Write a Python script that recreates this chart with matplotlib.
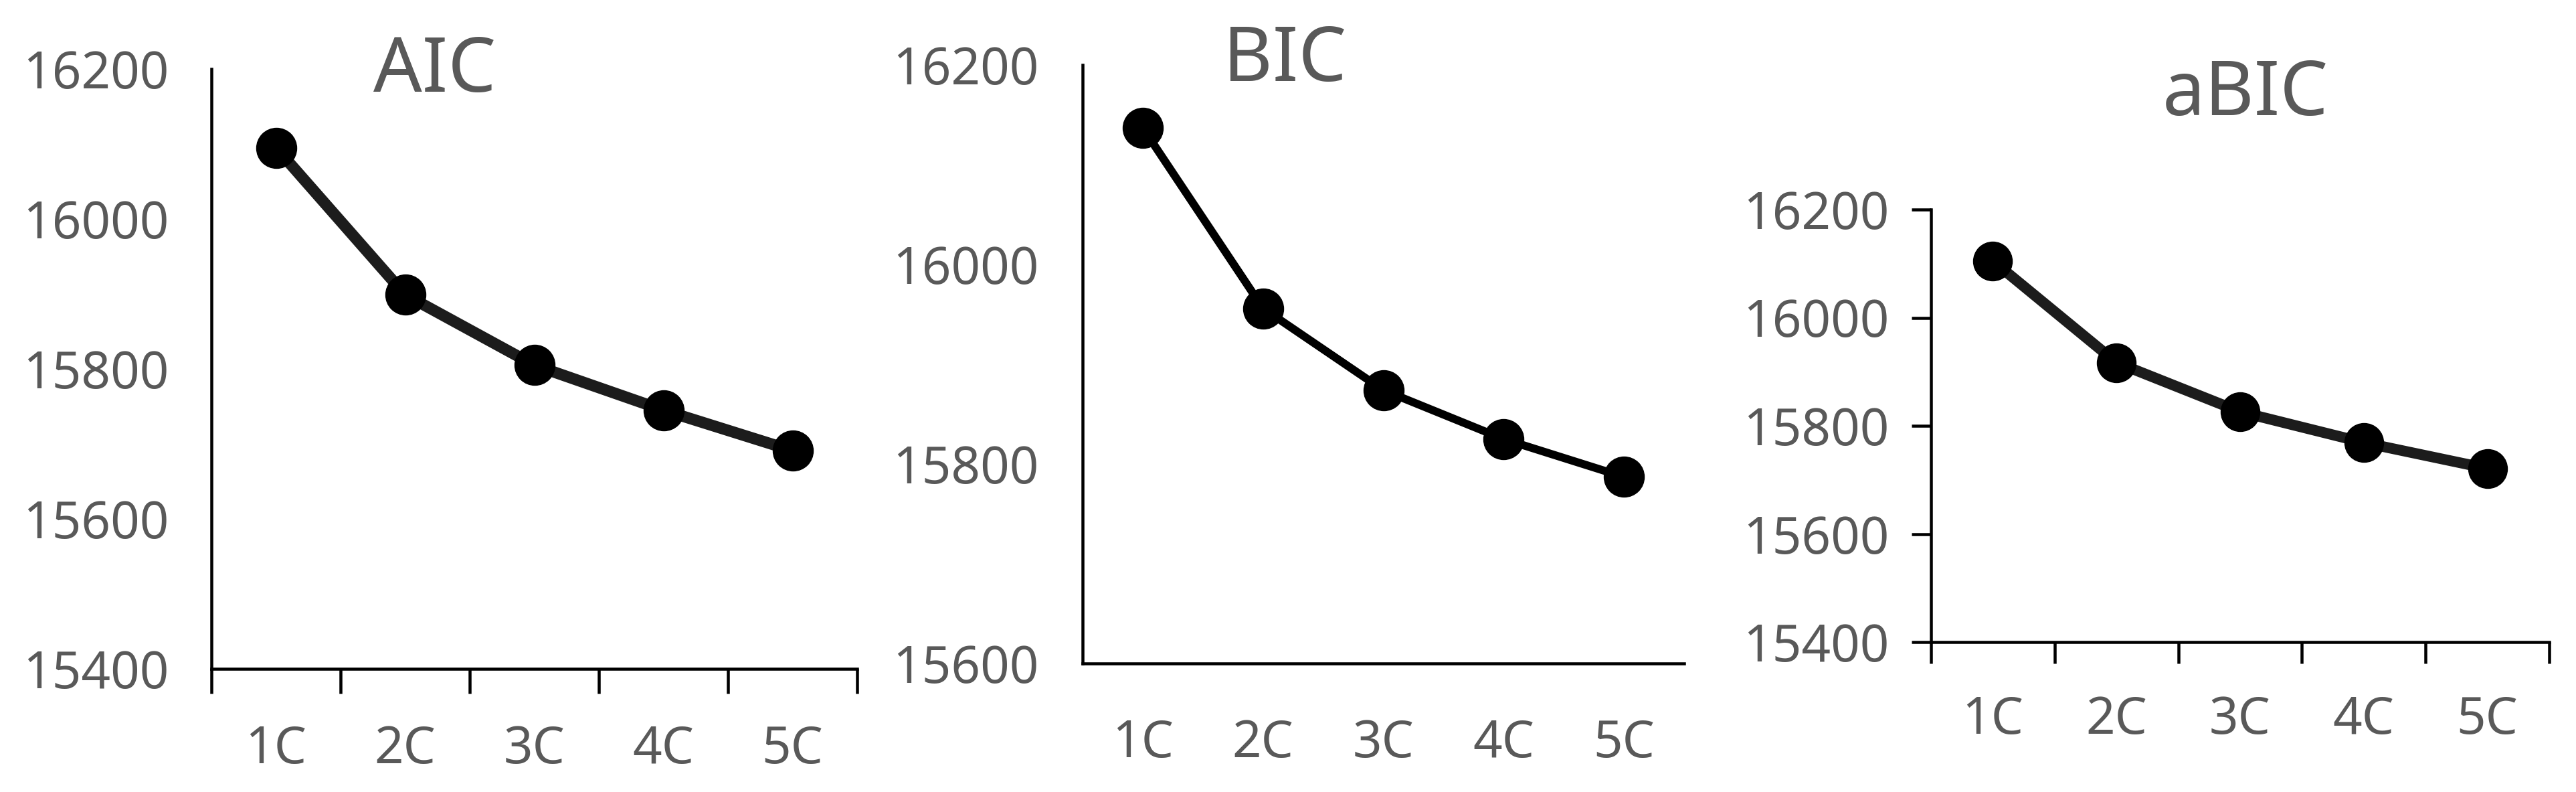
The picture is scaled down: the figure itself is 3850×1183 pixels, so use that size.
import matplotlib
matplotlib.use("Agg")
import matplotlib.pyplot as plt
import numpy as np

plt.rcParams['font.family'] = ['Noto Sans', 'DejaVu Sans']

categories = ["1C", "2C", "3C", "4C", "5C"]
aic_values = [16095, 15899, 15805, 15745, 15691]
bic_values = [16137, 15956, 15874, 15825, 15787]
abic_values = [16105, 15917, 15826, 15769, 15721]

titles = ["AIC", "BIC", "aBIC"]
aic_yticks = [15400, 15600, 15800, 16000, 16200]
bic_yticks = [15600, 15800, 16000, 16200]
abic_yticks = [15400, 15600, 15800, 16000, 16200]

W, H = 3850, 1183
DPI = 100
fig = plt.figure(figsize=(W / DPI, H / DPI), dpi=DPI)
fig.patch.set_facecolor("white")

GREY = "#595959"
PX = 72.0 / DPI  # points per pixel


def box(left, right, top, bottom):
    return [left / W, 1 - bottom / H, (right - left) / W, (bottom - top) / H]


panels = [
    dict(vals=aic_values, yt=aic_yticks, rect=box(316, 1281, 103, 999),
         lw=17, ms=60, col="#1c1c1c", xtick_len=37, ytick_len=0, ypad=63, xpad=83,
         title=(650, 137)),
    dict(vals=bic_values, yt=bic_yticks, rect=box(1618, 2517, 97, 991),
         lw=12, ms=60, col="#000000", xtick_len=0, ytick_len=0, ypad=65, xpad=82,
         title=(1920, 121)),
    dict(vals=abic_values, yt=abic_yticks, rect=box(2886, 3810, 313, 959),
         lw=16, ms=58, col="#1c1c1c", xtick_len=32, ytick_len=29, ypad=33, xpad=79,
         title=(3356, 172)),
]

x = np.arange(1, len(categories) + 1)
for p, t in zip(panels, titles):
    ax = fig.add_axes(p["rect"])
    ax.plot(x, p["vals"], color=p["col"], lw=p["lw"] * PX, marker="o",
            markersize=p["ms"] * PX, markerfacecolor="black",
            markeredgecolor="black", solid_capstyle="round", zorder=3,
            clip_on=False)
    ax.set_xlim(0.5, len(categories) + 0.5)
    ax.set_ylim(p["yt"][0], p["yt"][-1])
    ax.set_yticks(p["yt"])
    ax.set_yticklabels([str(v) for v in p["yt"]])
    ax.set_xticks(x)
    ax.set_xticklabels(categories)
    ax.set_xticks(np.arange(0.5, len(categories) + 1, 1.0), minor=True)
    for s in ["top", "right"]:
        ax.spines[s].set_visible(False)
    for s in ["left", "bottom"]:
        ax.spines[s].set_linewidth(4.5 * PX)
        ax.spines[s].set_color("black")
    ax.tick_params(axis="x", which="major", length=0, pad=p["xpad"] * PX,
                   labelsize=55, labelcolor=GREY)
    ax.tick_params(axis="x", which="minor", length=p["xtick_len"] * PX,
                   width=4.5 * PX, color="black", direction="out")
    ax.tick_params(axis="y", which="major", length=p["ytick_len"] * PX,
                   width=4.5 * PX, color="black", pad=p["ypad"] * PX,
                   labelsize=55, labelcolor=GREY, direction="out")
    ax.set_facecolor("none")
    tx, ty = p["title"]
    fig.text(tx / W, 1 - ty / H, t, ha="center", va="baseline",
             fontsize=82, color=GREY)

fig.savefig("out.png", dpi=DPI, facecolor="white")
